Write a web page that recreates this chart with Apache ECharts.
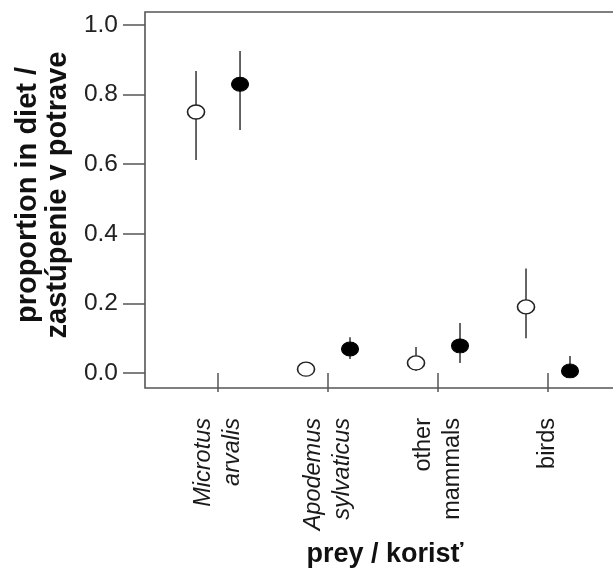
<!DOCTYPE html>
<html>
<head>
<meta charset="utf-8">
<script src="https://cdn.jsdelivr.net/npm/echarts@6/dist/echarts.min.js"></script>
<style>
  html, body { margin: 0; padding: 0; background: #fff; }
  #chart { width: 613px; height: 569px; }
</style>
</head>
<body>
<div id="chart"></div>
<script>
// Prey categories (first two are species names, set in italics)
const categories = ['Microtus\narvalis', 'Apodemus\nsylvaticus', 'other\nmammals', 'birds'];
const italicCategory = [true, true, false, false];

// Open symbols: mean proportion with interval bounds
const openMean = [0.75, 0.011, 0.029, 0.19];
const openLow  = [0.612, 0.0, 0.006, 0.10];
const openHigh = [0.868, 0.025, 0.075, 0.30];

// Filled symbols: mean proportion with interval bounds
const filledMean = [0.830, 0.069, 0.078, 0.006];
const filledLow  = [0.698, 0.040, 0.029, 0.0];
const filledHigh = [0.925, 0.103, 0.144, 0.049];

// Y-axis tick values
const yTicks = [0, 0.2, 0.4, 0.6, 0.8, 1.0];

const FONT = "'Liberation Sans', Arial, Helvetica, sans-serif";
const SHIFT = 0.2;          // horizontal offset of each pair around its category
const catPos = categories.map((c, i) => i + 1);

const openPts   = catPos.map((x, i) => [x - SHIFT, openMean[i]]);
const filledPts = catPos.map((x, i) => [x + SHIFT, filledMean[i]]);
const bars = catPos.map((x, i) => [x - SHIFT, openLow[i], openHigh[i]])
  .concat(catPos.map((x, i) => [x + SHIFT, filledLow[i], filledHigh[i]]));

const chart = echarts.init(document.getElementById('chart'), null, { renderer: 'canvas' });

chart.setOption({
  animation: false,
  backgroundColor: '#fff',
  textStyle: { fontFamily: FONT },
  grid: {
    left: 145, top: 12, bottom: 181, right: -12,
    containLabel: false,
    outerBoundsMode: 'none',
    show: true, borderColor: '#555', borderWidth: 1.6, backgroundColor: 'transparent'
  },
  xAxis: {
    type: 'value',
    min: 0.336, max: 4.7,
    splitLine: { show: false },
    axisLine: { show: false },
    axisTick: {
      show: true, customValues: catPos, length: 19, inside: false,
      lineStyle: { color: '#555', width: 1.5 }
    },
    axisLabel: {
      customValues: catPos,
      rotate: 90,
      margin: 30,
      formatter: function (v) {
        const i = Math.round(v) - 1;
        const key = italicCategory[i] ? 'it' : 'up';
        return categories[i].split('\n').map(s => '{' + key + '|' + s + '}').join('\n');
      },
      rich: {
        it: { fontStyle: 'italic', fontSize: 23.5, lineHeight: 29, color: '#1a1a1a', fontFamily: FONT },
        up: { fontSize: 23.5, lineHeight: 29, color: '#1a1a1a', fontFamily: FONT }
      }
    },
    name: 'prey / korisť',
    nameLocation: 'middle',
    nameGap: 153,
    nameTextStyle: { fontSize: 27, fontWeight: 'bold', color: '#111', fontFamily: FONT }
  },
  yAxis: {
    type: 'value',
    min: -0.0431, max: 1.0374,
    splitLine: { show: false },
    axisLine: { show: false },
    axisTick: {
      show: true, customValues: yTicks, length: 22,
      lineStyle: { color: '#555', width: 1.5 }
    },
    axisLabel: {
      customValues: yTicks,
      margin: 27,
      fontSize: 24.5,
      color: '#222',
      formatter: v => v.toFixed(1)
    },
    name: 'proportion in diet /\nzastúpenie v potrave',
    nameLocation: 'middle',
    nameGap: 61,
    nameTextStyle: {
      fontSize: 29, fontWeight: 'bold', lineHeight: 30, color: '#111', fontFamily: FONT,
      padding: [0, 0, 0, 10]
    }
  },
  series: [
    {
      type: 'custom',
      name: 'interval',
      data: bars,
      encode: { x: 0, y: [1, 2] },
      z: 1,
      renderItem: function (params, api) {
        const x = api.value(0);
        const p1 = api.coord([x, api.value(1)]);
        const p2 = api.coord([x, api.value(2)]);
        return {
          type: 'line',
          shape: { x1: p1[0], y1: p1[1], x2: p2[0], y2: p2[1] },
          style: { stroke: '#333', lineWidth: 1.5 }
        };
      }
    },
    {
      type: 'scatter',
      name: 'open',
      data: openPts,
      symbol: 'circle',
      symbolSize: [17, 14],
      z: 3,
      itemStyle: { color: '#fff', borderColor: '#222', borderWidth: 1.5, opacity: 1 }
    },
    {
      type: 'scatter',
      name: 'filled',
      data: filledPts,
      symbol: 'circle',
      symbolSize: [17, 14],
      z: 3,
      itemStyle: { color: '#000', borderColor: '#000', borderWidth: 1, opacity: 1 }
    }
  ]
});
</script>
</body>
</html>
